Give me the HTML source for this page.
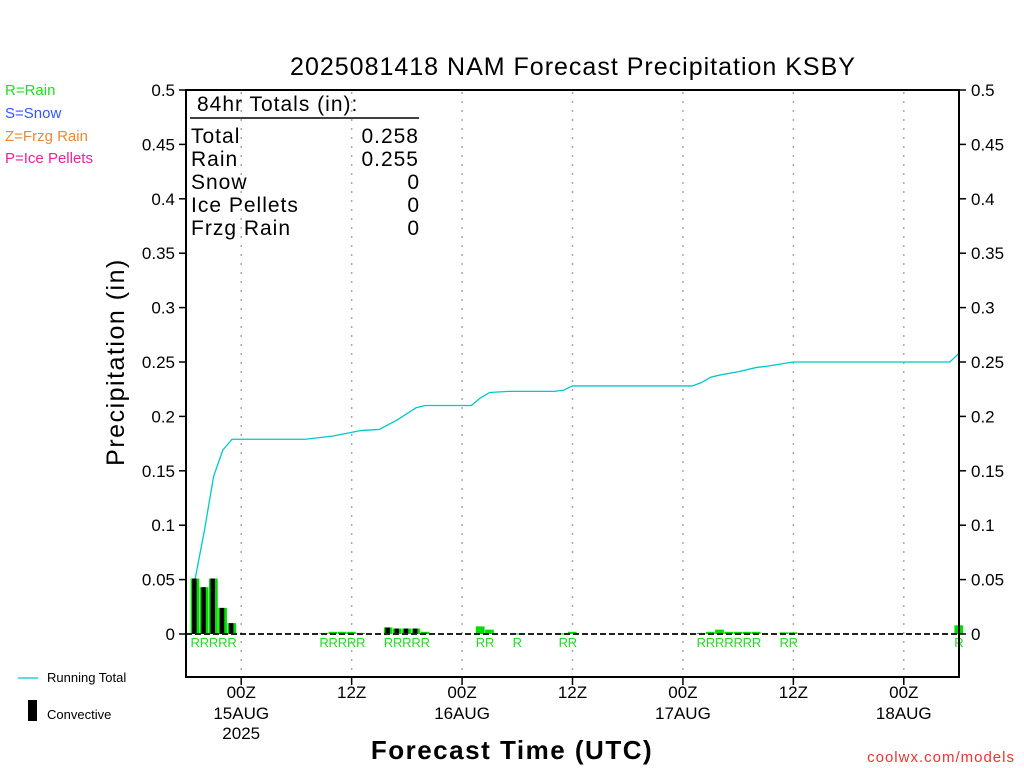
<!DOCTYPE html>
<html><head><meta charset="utf-8"><style>
html,body{margin:0;padding:0;background:#fff;}
svg{display:block;font-family:"Liberation Sans",sans-serif;}
</style></head><body>
<svg id="chart" width="1024" height="768" viewBox="0 0 1024 768" xmlns="http://www.w3.org/2000/svg">
<text x="573" y="75" font-size="25" text-anchor="middle" fill="#000" letter-spacing="1">2025081418 NAM Forecast Precipitation KSBY</text>
<g font-size="15">
<text x="5" y="95" fill="#22dd22">R=Rain</text>
<text x="5" y="118" fill="#3355ff">S=Snow</text>
<text x="5" y="141" fill="#ee8833">Z=Frzg Rain</text>
<text x="5" y="163" fill="#ee2299">P=Ice Pellets</text>
</g>
<g id="grid"></g>
<g id="bars"></g>
<g id="labels" font-size="13" fill="#22dd22"></g>
<line x1="186" y1="634" x2="959" y2="634" stroke="#222" stroke-width="2" stroke-dasharray="6,3"/>
<polyline id="runline" fill="none" stroke="#00c8cc" stroke-width="1.3"/>
<rect x="186" y="90" width="773" height="587" fill="none" stroke="#000" stroke-width="2"/>
<g id="axes" font-size="17" fill="#000"></g>
<g font-size="21" fill="#000">
<text x="197" y="111" letter-spacing="1">84hr Totals (in):</text>
<line x1="190" y1="118" x2="419" y2="118" stroke="#000" stroke-width="1.5"/>
<text x="191" y="143" letter-spacing="1">Total</text><text x="419" y="143" text-anchor="end" letter-spacing="1">0.258</text>
<text x="191" y="166" letter-spacing="1">Rain</text><text x="419" y="166" text-anchor="end" letter-spacing="1">0.255</text>
<text x="191" y="189" letter-spacing="1">Snow</text><text x="419" y="189" text-anchor="end">0</text>
<text x="191" y="212" letter-spacing="1">Ice Pellets</text><text x="419" y="212" text-anchor="end">0</text>
<text x="191" y="235" letter-spacing="1">Frzg Rain</text><text x="419" y="235" text-anchor="end">0</text>
</g>
<text transform="translate(124,362) rotate(-90)" font-size="25" text-anchor="middle" letter-spacing="1.5">Precipitation (in)</text>
<text x="512" y="759" font-size="26" font-weight="bold" text-anchor="middle" letter-spacing="1.5">Forecast Time (UTC)</text>
<g font-size="13">
<line x1="18" y1="678" x2="38" y2="678" stroke="#00c8cc" stroke-width="1.3"/>
<text x="47" y="682">Running Total</text>
<rect x="28" y="700" width="9" height="21" fill="#000"/>
<text x="47" y="719">Convective</text>
</g>
<text x="1015" y="762" font-size="15" fill="#ee3333" text-anchor="end" letter-spacing="1">coolwx.com/models</text>
</svg>
<script>
const barHours = [1,2,3,4,5,15,16,17,18,19,22,23,24,25,26,32,33,36,41,42,56,57,58,59,60,61,62,65,66,84];
const barTotals = [0.051,0.043,0.051,0.024,0.010,0.001,0.002,0.002,0.002,0.001,0.006,0.005,0.005,0.005,0.002,0.007,0.004,0.0005,0.0005,0.002,0.001,0.002,0.004,0.002,0.002,0.002,0.002,0.0015,0.0015,0.008];
const barConvective = [0.051,0.043,0.051,0.024,0.010,0,0,0,0,0,0.006,0.005,0.005,0.005,0.001,0,0,0,0,0,0,0,0,0,0,0,0,0,0,0];
const lineHours = [1,2,3,4,5,13,16,19,21,23,25,26,31,32,33,35,40,41,42,55,56,57,58,60,62,63,66,83,84];
const lineTotals = [0.051,0.095,0.145,0.169,0.179,0.179,0.182,0.187,0.188,0.197,0.208,0.210,0.210,0.217,0.222,0.223,0.223,0.224,0.228,0.228,0.231,0.236,0.238,0.241,0.245,0.246,0.250,0.250,0.258];
const yTicks = ["0","0.05","0.1","0.15","0.2","0.25","0.3","0.35","0.4","0.45","0.5"];
const xTickHours = [6,18,30,42,54,66,78];
const xTickTimes = ["00Z","12Z","00Z","12Z","00Z","12Z","00Z"];
const xTickDates = ["15AUG","","16AUG","","17AUG","","18AUG"];
const xTickYears = ["2025","","","","","",""];

const NS="http://www.w3.org/2000/svg";
const X0=186,X1=959,Y0=634,YTOP=90;
const hx=h=>X0+(X1-X0)*h/84;
const vy=v=>Y0-(Y0-YTOP)*v/0.5;
function mk(tag,attrs,parent){const e=document.createElementNS(NS,tag);for(const k in attrs)e.setAttribute(k,attrs[k]);document.getElementById(parent).appendChild(e);return e;}

xTickHours.forEach((h,i)=>{
  const g=mk('line',{x1:hx(h),y1:92,x2:hx(h),y2:676,stroke:'#aaa','stroke-width':1.5,'stroke-dasharray':'2,7'},'grid');
  
  
  const t=mk('line',{x1:hx(h),y1:677,x2:hx(h),y2:685,stroke:'#000','stroke-width':1.5},'axes');
  
  
  [[xTickTimes[i],698],[xTickDates[i],719],[xTickYears[i],739]].forEach(([s,y])=>{
    if(!s)return;
    const tx=mk('text',{x:hx(h),y:y,'text-anchor':'middle'},'axes');tx.textContent=s;
    
    
  });
});
yTicks.forEach(s=>{
  const v=parseFloat(s),y=vy(v);
  const l=mk('line',{x1:179,y1:y,x2:186,y2:y,stroke:'#000','stroke-width':1.5},'axes');
  
  
  const r=mk('line',{x1:959,y1:y,x2:966,y2:y,stroke:'#000','stroke-width':1.5},'axes');
  
  
  const a=mk('text',{x:175,y:y+6,'text-anchor':'end'},'axes');a.textContent=s;
  
  
  const b=mk('text',{x:971,y:y+6},'axes');b.textContent=s;
  
  
});
const bw=(X1-X0)/84;
barHours.forEach((h,i)=>{
  const x=hx(h)-bw/2, y=vy(barTotals[i]);
  const r=mk('rect',{x:x,y:y,width:bw-0.5,height:Math.max(Y0-y,1),fill:'#00dd00'},'bars');
  
  
  if(barConvective[i]>0){
    const yc=vy(barConvective[i]);
    const c=mk('rect',{x:x+1.5,y:yc,width:4.5,height:Y0-yc,fill:'#000'},'bars');
    
    
  }
  const t=mk('text',{x:hx(h),y:647,'text-anchor':'middle'},'labels');t.textContent='R';
  
  
});
document.getElementById('runline').setAttribute('points',lineHours.map((h,i)=>hx(h)+','+vy(lineTotals[i])).join(' '));
</script>
</body></html>
